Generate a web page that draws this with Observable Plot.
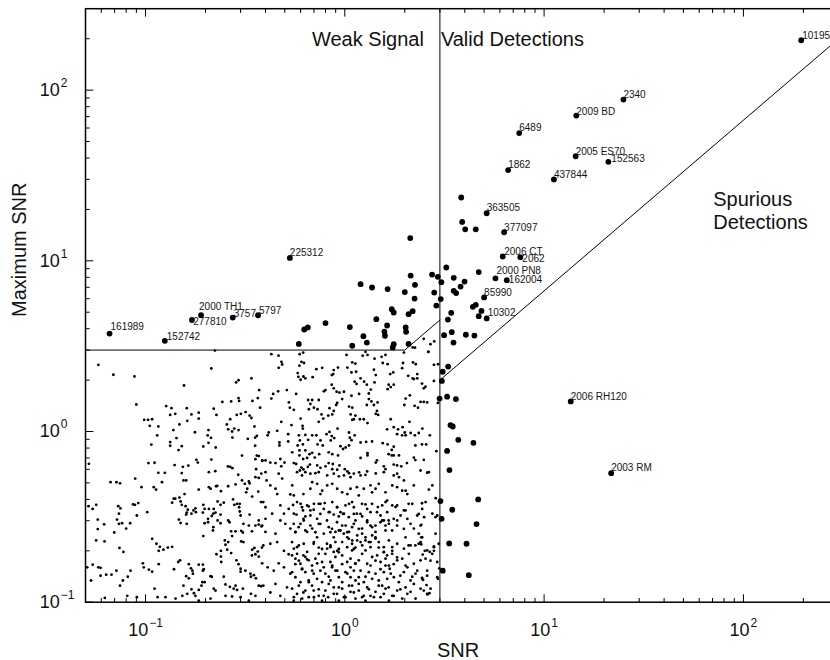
<!DOCTYPE html>
<html>
<head>
<meta charset="utf-8">
<script src="https://cdn.jsdelivr.net/npm/d3@7"></script>
<script src="https://cdn.jsdelivr.net/npm/@observablehq/plot@0.6"></script>
<style>
  html, body { margin: 0; padding: 0; background: white; overflow: hidden; }
  #wrap { width: 830px; height: 660px; overflow: hidden; }
</style>
</head>
<body>
<div id="wrap"></div>
<script>
// ---------------- DATA ----------------
// Tick values and labels
const decadeTicks = [0.1, 1, 10, 100];
const decadeExponents = ["−1", "0", "1", "2"];
const xMinorTicks = [0.06, 0.07, 0.08, 0.09, 0.2, 0.3, 0.4, 0.5, 0.6, 0.7, 0.8, 0.9,
  2, 3, 4, 5, 6, 7, 8, 9, 20, 30, 40, 50, 60, 70, 80, 90, 200];
const yMinorTicks = [0.2, 0.3, 0.4, 0.5, 0.6, 0.7, 0.8, 0.9, 2, 3, 4, 5, 6, 7, 8, 9,
  20, 30, 40, 50, 60, 70, 80, 90, 200];

// Region boundaries [SNR, Maximum SNR]
const snrThreshold = 3;
const weakBoundary = [[0.05, 3], [2, 3], [3, 4.5]];
const spuriousBoundary = [[3, 2], [300, 200]];

// Undetected objects, [SNR, Maximum SNR]
const cloudUpperLeft = [
[0.058,2.46],[0.069,2.15],[0.088,2.10],[0.156,1.86],[0.214,2.34],[0.223,2.98],[0.285,1.94],[0.293,2.0],[0.34,2.05],[0.372,1.75],
[0.090,1.44],[0.127,1.41],[0.135,1.37],[0.161,1.37],[0.133,1.25],[0.141,1.27],[0.17,1.26],[0.185,1.29],[0.185,1.19],[0.162,1.155],
[0.148,1.10],[0.138,1.02],[0.22,1.36],[0.227,1.25],[0.243,1.49],[0.269,1.50],[0.293,1.57],[0.295,1.51],[0.344,1.51],[0.366,1.57],
[0.376,1.38],[0.287,1.25],[0.301,1.27],[0.318,1.30],[0.333,1.24],[0.34,1.20],[0.266,1.18],[0.256,1.10],[0.26,1.03],[0.279,1.04],
[0.293,1.02],[0.272,1.0],[0.352,1.07],[0.0985,1.17],[0.103,1.17],[0.108,1.18],[0.105,1.08],[0.116,1.07],[0.1145,0.948],[0.107,0.839],
[0.133,0.867],[0.133,0.825],[0.143,0.915],[0.152,0.821],[0.1465,0.778],[0.177,0.99],[0.207,1.02],[0.205,0.948],[0.213,0.918],[0.207,0.859],
[0.195,0.817],[0.225,0.806],[0.273,0.922],[0.326,0.906],[0.355,0.922],[0.362,0.944],[0.355,0.825],[0.305,0.723],[0.362,0.723],[0.37,0.718],
[0.356,0.689],[0.386,0.674],[0.052,0.647],[0.1035,0.653],[0.111,0.656],[0.14,0.636],[0.154,0.621],[0.164,0.632],[0.18,0.683],[0.183,0.658],
[0.214,0.685],[0.259,0.624],[0.266,0.621],[0.273,0.61],[0.359,0.602],[0.381,0.567],[0.116,0.573],[0.125,0.573],[0.152,0.571],[0.208,0.578],
[0.224,0.586],[0.292,0.558]
];
const cloudUpperRight = [
[0.428,2.84],[0.465,2.78],[0.594,2.84],[0.618,2.90],[1.02,2.81],[1.23,2.78],[1.27,2.93],[1.30,2.81],[1.41,2.67],[1.53,2.74],
[1.60,2.81],[1.55,2.52],[1.64,2.48],[1.98,2.90],[2.25,3.1],[2.62,2.93],[2.20,2.54],[2.27,2.48],[1.96,2.52],[1.94,2.35],
[2.80,2.46],[0.481,2.56],[0.485,2.47],[0.466,2.36],[0.606,2.56],[0.624,2.52],[0.592,2.43],[0.72,2.32],[0.77,2.36],[0.924,2.37],
[1.09,2.54],[1.13,2.50],[1.03,2.37],[1.40,2.30],[1.69,2.17],[1.75,2.22],[2.08,2.12],[2.19,2.05],[2.31,2.17],[2.31,2.05],
[2.22,2.03],[2.80,1.98],[0.58,2.20],[0.585,2.09],[0.60,2.01],[0.62,2.10],[0.634,2.05],[0.69,2.08],[0.86,2.14],[0.88,2.29],
[0.875,2.17],[1.08,2.22],[1.14,2.24],[1.20,2.05],[1.25,1.96],[1.12,1.96],[1.145,1.90],[1.43,2.14],[1.41,1.94],[1.29,1.88],
[1.35,1.76],[1.32,1.67],[1.66,1.88],[1.64,1.77],[1.70,1.82],[1.76,1.88],[2.44,1.91],[2.54,1.83],[2.49,1.79],[0.86,1.88],
[0.88,1.79],[0.91,1.71],[0.94,1.69],[0.80,1.75],[0.785,1.72],[0.99,1.71],[1.08,1.62],[1.18,1.66],[0.97,1.55],[1.32,1.55],
[1.36,1.50],[1.29,1.43],[1.40,1.43],[1.46,1.48],[0.437,1.66],[0.463,1.72],[0.512,1.75],[0.428,1.56],[0.57,1.66],[0.524,1.48],
[0.53,1.38],[0.555,1.34],[0.655,1.53],[0.686,1.53],[0.74,1.53],[0.672,1.45],[0.70,1.38],[0.73,1.35],[0.66,1.35],[0.60,1.19],
[0.614,1.08],[0.616,1.04],[0.54,1.09],[0.48,1.14],[0.764,1.26],[0.78,1.19],[0.74,1.14],[0.826,1.24],[0.865,1.26],[0.88,1.32],
[0.838,1.37],[0.916,1.47],[0.905,1.43],[1.05,1.40],[1.09,1.38],[1.07,1.26],[1.13,1.24],[1.11,1.18],[1.09,1.17],[1.19,1.18],
[1.245,1.18],[1.30,1.12],[1.43,1.27],[1.47,1.25],[1.45,1.32],[1.70,1.18],[0.92,1.04],[2.02,1.56],[1.99,1.43],[2.12,1.63],
[2.24,1.415],[2.33,1.38],[2.40,1.49],[2.49,1.49],[2.59,1.48],[2.11,1.14],[1.63,1.03],[1.76,1.06],[1.85,1.03],[1.95,1.06],
[2.0,0.987],[1.83,0.965],[1.94,0.95],[2.02,0.95],[2.14,0.98],[2.245,0.95],[2.35,0.98],[2.45,1.04],[2.67,0.95],[0.41,0.95],
[0.415,0.987],[0.458,1.01],[0.52,0.965],[0.52,0.874],[0.47,0.862],[0.47,0.828],[0.588,0.95],[0.595,0.887],[0.616,0.84],[0.58,0.828],
[0.634,0.955],[0.655,0.894],[0.686,0.95],[0.72,0.95],[0.81,0.965],[0.838,0.995],[0.86,0.94],[0.885,0.915],[0.85,0.887],[0.755,0.887],
[0.775,0.828],[0.73,0.84],[1.05,0.987],[1.06,0.92],[1.08,0.89],[1.12,0.95],[0.951,0.82],[1.01,0.806],[1.05,0.828],[0.98,0.79],
[1.20,0.862],[1.28,0.87],[1.37,0.874],[1.55,0.855],[1.64,0.84],[1.76,0.815],[1.72,0.78],[1.66,0.737],[1.72,0.724],[1.76,0.724],
[2.26,0.828],[2.44,0.84],[2.56,0.84],[1.87,0.724],[0.634,0.775],[0.665,0.737],[0.647,0.70],[0.618,0.69],[0.686,0.75],[0.707,0.704],
[0.744,0.737],[0.83,0.755],[0.865,0.737],[0.925,0.724],[0.592,0.775],[0.592,0.724],[0.545,0.755],[0.498,0.658],[0.48,0.625],[0.475,0.69],
[0.449,0.653],[0.423,0.658],[0.40,0.677],[0.385,0.677],[0.555,0.653],[0.57,0.645],[0.606,0.615],[0.595,0.591],[0.62,0.60],[0.652,0.62],
[0.668,0.64],[0.727,0.633],[0.755,0.613],[0.80,0.625],[0.83,0.653],[0.87,0.645],[0.865,0.602],[0.916,0.597],[0.94,0.633],[1.20,0.70],
[1.30,0.747],[1.30,0.724],[1.45,0.677],[1.43,0.658],[1.0,0.602],[1.03,0.584],[1.05,0.57],[1.18,0.577],[1.295,0.584],[1.57,0.625],
[1.60,0.602],[1.76,0.64],[1.83,0.633],[1.92,0.625],[2.05,0.653],[2.22,0.704],[2.26,0.68],[2.49,0.683],[2.88,0.767],[2.40,0.591],
[2.59,0.574],[2.94,2.48],[2.93,1.47],[2.64,0.457],[2.75,0.483],[2.86,0.407],[2.44,0.38],[2.50,0.315],[2.85,0.315],[2.42,0.284],
[2.42,0.24],[2.42,0.218],[2.80,0.212],[2.52,0.20],[2.67,0.197],[2.80,0.20],[2.46,0.19],[2.98,0.158],[2.44,0.139],[2.47,0.135],
[2.93,0.137],[2.57,0.126],[2.60,0.111],[2.66,0.113],[2.49,3.49],[2.69,3.25],[2.81,3.37],[2.19,3.11],[2.63,2.93]
];
const cloudLowerLeft = [
[0.0668,0.505],[0.0715,0.505],[0.0745,0.497],[0.0888,0.53],[0.0955,0.472],[0.110,0.472],[0.113,0.457],[0.121,0.505],[0.155,0.517],[0.160,0.517],
[0.0518,0.365],[0.0543,0.352],[0.0566,0.372],[0.073,0.365],[0.0749,0.355],[0.0736,0.33],[0.0866,0.374],[0.0885,0.372],[0.092,0.381],[0.0905,0.322],
[0.102,0.337],[0.0576,0.305],[0.062,0.286],[0.0576,0.268],[0.072,0.305],[0.0736,0.288],[0.0763,0.29],[0.0838,0.29],[0.0697,0.256],[0.080,0.27],
[0.0566,0.23],[0.0623,0.227],[0.074,0.208],[0.0775,0.197],[0.108,0.235],[0.1135,0.22],[0.1165,0.20],[0.118,0.211],[0.123,0.203],[0.1295,0.209],
[0.136,0.211],[0.1385,0.404],[0.136,0.383],[0.141,0.404],[0.148,0.41],[0.157,0.43],[0.150,0.389],[0.152,0.372],[0.159,0.365],[0.161,0.335],
[0.160,0.326],[0.163,0.348],[0.170,0.33],[0.174,0.345],[0.178,0.355],[0.179,0.337],[0.185,0.457],[0.208,0.472],[0.212,0.462],[0.226,0.478],
[0.229,0.48],[0.239,0.447],[0.260,0.478],[0.283,0.49],[0.305,0.517],[0.315,0.494],[0.330,0.51],[0.333,0.497],[0.356,0.54],[0.370,0.535],
[0.320,0.44],[0.324,0.462],[0.343,0.416],[0.368,0.445],[0.275,0.40],[0.279,0.372],[0.288,0.377],[0.297,0.377],[0.295,0.36],[0.297,0.34],
[0.380,0.386],[0.400,0.36],[0.230,0.389],[0.238,0.372],[0.247,0.383],[0.195,0.372],[0.198,0.352],[0.194,0.335],[0.208,0.352],[0.220,0.352],
[0.219,0.33],[0.2245,0.335],[0.238,0.326],[0.147,0.305],[0.150,0.291],[0.161,0.288],[0.206,0.308],[0.215,0.32],[0.230,0.301],[0.238,0.29],
[0.219,0.275],[0.206,0.294],[0.198,0.29],[0.260,0.301],[0.264,0.294],[0.300,0.322],[0.333,0.326],[0.370,0.301],[0.370,0.285],[0.382,0.278],
[0.400,0.308],[0.310,0.288],[0.330,0.281],[0.356,0.281],[0.269,0.26],[0.272,0.244],[0.283,0.26],[0.302,0.262],[0.308,0.256],[0.342,0.26],
[0.195,0.244],[0.218,0.263],[0.250,0.23],[0.252,0.217],[0.260,0.225],[0.302,0.227],[0.310,0.225],[0.343,0.203],[0.352,0.208],[0.356,0.191],
[0.366,0.198],[0.370,0.185],[0.342,0.188],[0.384,0.209],[0.239,0.20],[0.239,0.185],[0.240,0.172],[0.269,0.194],[0.257,0.203],[0.286,0.176],
[0.293,0.167],[0.300,0.157],[0.227,0.191],[0.146,0.172],[0.149,0.176],[0.139,0.156],[0.165,0.167],[0.169,0.158],[0.172,0.153],[0.173,0.147],
[0.160,0.142],[0.165,0.138],[0.185,0.166],[0.194,0.166],[0.196,0.156],[0.194,0.153],[0.212,0.142],[0.215,0.141],[0.193,0.131],[0.198,0.131],
[0.191,0.125],[0.185,0.118],[0.155,0.125],[0.170,0.119],[0.175,0.113],[0.162,0.112],[0.220,0.12],[0.2245,0.117],[0.247,0.141],[0.252,0.127],
[0.265,0.123],[0.277,0.12],[0.283,0.125],[0.300,0.151],[0.317,0.153],[0.336,0.147],[0.338,0.141],[0.350,0.144],[0.358,0.138],[0.370,0.125],
[0.380,0.124],[0.288,0.118],[0.308,0.12],[0.338,0.112],[0.356,0.109],[0.051,0.16],[0.0543,0.166],[0.058,0.16],[0.0595,0.159],[0.0533,0.134],
[0.0595,0.143],[0.0635,0.145],[0.0675,0.145],[0.0715,0.153],[0.0745,0.125],[0.077,0.134],[0.0815,0.141],[0.0841,0.153],[0.097,0.169],[0.098,0.16],
[0.104,0.155],[0.108,0.151],[0.1165,0.167],[0.111,0.12],[0.115,0.107],[0.126,0.107],[0.0905,0.107],[0.081,0.109],[0.0625,0.106],[0.153,0.109],
[0.178,0.109],[0.252,0.109],[0.272,0.108],[0.300,0.107],[0.330,0.102],[0.185,0.102],[0.212,0.105],[0.1415,0.105]
];
const cloudLowerRight = [
[0.40,0.578],[0.466,0.566],[0.485,0.53],[0.576,0.578],[0.610,0.553],[0.634,0.578],[0.672,0.566],[0.712,0.57],[0.740,0.578],[0.816,0.553],
[0.880,0.566],[0.934,0.546],[0.990,0.553],[1.068,0.54],[1.11,0.567],[1.20,0.553],[1.27,0.557],[1.43,0.568],[1.57,0.578],[1.76,0.553],
[1.87,0.54],[1.83,0.566],[1.98,0.517],[2.64,0.578],[0.405,0.517],[0.423,0.483],[0.449,0.462],[0.458,0.43],[0.545,0.483],[0.555,0.422],
[0.533,0.428],[0.620,0.43],[0.672,0.462],[0.686,0.505],[0.727,0.494],[0.770,0.45],[0.755,0.43],[0.816,0.483],[0.865,0.494],[0.916,0.462],
[0.970,0.44],[1.03,0.43],[1.068,0.462],[1.15,0.472],[1.175,0.422],[1.245,0.462],[1.346,0.483],[1.37,0.44],[1.426,0.462],[1.48,0.494],
[1.60,0.44],[1.73,0.483],[1.83,0.472],[1.94,0.45],[2.06,0.43],[2.02,0.45],[2.22,0.483],[0.390,0.386],[0.432,0.33],[0.475,0.369],
[0.495,0.33],[0.523,0.352],[0.555,0.33],[0.576,0.386],[0.610,0.36],[0.647,0.369],[0.672,0.345],[0.700,0.377],[0.755,0.377],[0.784,0.352],
[0.831,0.337],[0.865,0.386],[0.916,0.36],[0.951,0.337],[0.990,0.33],[1.05,0.377],[1.11,0.36],[1.15,0.33],[1.22,0.377],[1.295,0.352],
[1.37,0.377],[1.45,0.337],[1.54,0.369],[1.63,0.394],[1.73,0.369],[1.83,0.369],[1.98,0.345],[2.09,0.377],[2.31,0.322],[2.75,0.33],
[0.385,0.281],[0.400,0.258],[0.449,0.252],[0.475,0.301],[0.503,0.288],[0.533,0.27],[0.565,0.258],[0.599,0.288],[0.620,0.308],[0.647,0.258],
[0.686,0.27],[0.740,0.288],[0.784,0.252],[0.831,0.275],[0.897,0.258],[0.951,0.263],[1.01,0.281],[1.05,0.258],[1.11,0.288],[1.155,0.246],
[1.22,0.27],[1.295,0.301],[1.346,0.281],[1.426,0.258],[1.51,0.294],[1.60,0.281],[1.66,0.301],[1.76,0.308],[1.83,0.281],[2.06,0.308],
[2.22,0.27],[2.35,0.252],[0.390,0.215],[0.423,0.22],[0.458,0.225],[0.495,0.20],[0.523,0.191],[0.555,0.206],[0.588,0.215],[0.620,0.188],
[0.647,0.197],[0.700,0.225],[0.740,0.209],[0.816,0.206],[0.847,0.215],[0.880,0.197],[0.916,0.20],[0.970,0.225],[1.03,0.24],[1.09,0.23],
[1.13,0.209],[1.20,0.225],[1.27,0.23],[1.346,0.225],[1.426,0.236],[1.48,0.209],[1.57,0.197],[1.63,0.188],[1.73,0.20],[1.83,0.183],
[1.98,0.206],[2.09,0.215],[2.26,0.215],[2.40,0.225],[0.385,0.169],[0.410,0.16],[0.440,0.153],[0.466,0.169],[0.495,0.16],[0.533,0.147],
[0.565,0.167],[0.588,0.175],[0.610,0.156],[0.647,0.178],[0.686,0.153],[0.727,0.169],[0.784,0.16],[0.831,0.141],[0.865,0.164],[0.916,0.153],
[0.970,0.167],[1.03,0.147],[1.068,0.16],[1.13,0.169],[1.20,0.153],[1.27,0.141],[1.346,0.164],[1.426,0.175],[1.51,0.156],[1.60,0.164],
[1.70,0.147],[1.76,0.167],[1.90,0.143],[2.06,0.16],[2.18,0.141],[2.31,0.153],[2.59,0.153],[2.69,0.175],[0.390,0.125],[0.423,0.114],
[0.449,0.128],[0.475,0.109],[0.513,0.122],[0.555,0.107],[0.588,0.125],[0.620,0.114],[0.660,0.131],[0.700,0.107],[0.740,0.119],[0.784,0.109],
[0.831,0.128],[0.880,0.112],[0.934,0.122],[0.990,0.107],[1.05,0.125],[1.11,0.114],[1.175,0.128],[1.245,0.109],[1.32,0.119],[1.40,0.107],
[1.48,0.125],[1.57,0.112],[1.66,0.122],[1.76,0.109],[1.90,0.119],[2.06,0.112],[2.22,0.128],[2.49,0.117]
];
const cloudDenseCore = [
[0.55,0.371],[0.60,0.377],[0.617,0.345],[0.572,0.326],[0.634,0.318],[0.659,0.364],[0.698,0.348],[0.672,0.322],[0.74,0.377],[0.754,0.329],
[0.793,0.381],[0.84,0.337],[0.88,0.326],[0.914,0.361],[0.933,0.318],[0.98,0.329],[1.008,0.369],[1.088,0.386],[1.11,0.329],[1.047,0.315],
[1.199,0.329],[1.27,0.374],[1.346,0.337],[1.222,0.318],[1.465,0.361],[1.511,0.322],[1.601,0.386],[1.632,0.337],[1.57,0.301],[1.797,0.361],
[1.904,0.322],[2.017,0.345],[2.18,0.377],[2.35,0.329],[2.445,0.352],[2.542,0.386],[2.91,0.322],
[0.554,0.288],[0.587,0.275],[0.622,0.301],[0.634,0.263],[0.565,0.257],[0.672,0.281],[0.712,0.257],[0.754,0.288],[0.726,0.308],[0.814,0.301],
[0.863,0.269],[0.914,0.294],[0.847,0.257],[0.933,0.263],[0.97,0.281],[1.028,0.257],[1.088,0.275],[1.131,0.301],[1.175,0.269],[1.222,0.252],
[1.295,0.294],[1.372,0.275],[1.426,0.281],[1.54,0.301],[1.601,0.263],[1.664,0.288],[1.729,0.263],[1.832,0.301],[1.978,0.269],[2.137,0.288],
[2.399,0.281],[2.853,0.252],
[0.544,0.225],[0.576,0.21],[0.622,0.22],[0.698,0.22],[0.726,0.24],[0.769,0.205],[0.814,0.22],[0.847,0.21],[0.897,0.225],[0.933,0.205],
[0.88,0.24],[0.988,0.252],[1.047,0.235],[1.088,0.22],[1.11,0.205],[1.028,0.21],[1.153,0.23],[1.222,0.215],[1.27,0.24],[1.32,0.225],
[1.372,0.246],[1.346,0.21],[1.426,0.24],[1.48,0.225],[1.57,0.21],[1.664,0.23],[1.729,0.21],[1.832,0.22],[2.017,0.24],[2.137,0.215],
[2.35,0.22],[2.445,0.24],[2.59,0.201],[2.80,0.21],[2.96,0.22],
[0.544,0.188],[0.565,0.18],[0.599,0.168],[0.634,0.184],[0.576,0.192],[0.659,0.176],[0.685,0.164],[0.712,0.18],[0.769,0.172],[0.74,0.192],
[0.799,0.192],[0.847,0.172],[0.897,0.184],[0.933,0.196],[0.863,0.16],[0.97,0.188],[1.028,0.172],[1.068,0.18],[1.131,0.168],[1.088,0.201],
[1.175,0.176],[1.222,0.192],[1.295,0.168],[1.372,0.184],[1.27,0.201],[1.454,0.188],[1.511,0.172],[1.601,0.18],[1.664,0.164],[1.57,0.196],
[1.729,0.192],[1.832,0.176],[1.941,0.18],[2.017,0.164],[2.096,0.192],[2.22,0.168],[2.399,0.176],[2.542,0.18],[2.745,0.192],[2.91,0.172],
[0.544,0.150],[0.565,0.140],[0.599,0.131],[0.634,0.150],[0.611,0.157],[0.659,0.134],[0.698,0.147],[0.726,0.137],[0.769,0.131],[0.754,0.153],
[0.799,0.147],[0.847,0.134],[0.897,0.153],[0.933,0.14],[0.97,0.131],[1.008,0.15],[1.068,0.14],[1.131,0.134],[1.11,0.153],[1.175,0.14],
[1.246,0.131],[1.32,0.15],[1.372,0.137],[1.426,0.147],[1.48,0.134],[1.57,0.15],[1.632,0.137],[1.68,0.157],[1.762,0.14],[1.867,0.131],
[1.978,0.15],[2.137,0.134],[2.264,0.147],[2.445,0.137],[2.59,0.143],[2.91,0.14],
[0.544,0.12],[0.576,0.112],[0.611,0.105],[0.634,0.117],[0.554,0.102],[0.659,0.107],[0.698,0.117],[0.74,0.109],[0.769,0.102],[0.685,0.125],
[0.799,0.117],[0.825,0.107],[0.88,0.122],[0.914,0.112],[0.933,0.102],[0.97,0.12],[1.008,0.107],[1.068,0.115],[1.131,0.105],[1.088,0.125],
[1.175,0.117],[1.222,0.107],[1.295,0.122],[1.346,0.109],[1.27,0.102],[1.426,0.115],[1.511,0.107],[1.601,0.12],[1.664,0.102],[1.54,0.125],
[1.729,0.109],[1.832,0.117],[1.941,0.105],[2.017,0.122],[2.137,0.115],[2.264,0.105],[2.399,0.12],[2.59,0.112],[2.693,0.12]
];

// Detected objects (large dots), [SNR, Maximum SNR]
const weakSignalHits = [
[1.20,7.30],[1.37,6.98],[1.64,6.83],[2.0,6.56],[2.25,7.23],[2.24,6.01],[2.13,13.6],[2.14,8.20],[1.72,5.21],[1.76,4.98],
[2.09,4.87],[2.19,5.07],[1.44,4.55],[0.80,4.32],[0.626,3.96],[0.652,4.07],[1.06,4.09],[1.63,4.18],[1.58,3.85],[1.59,3.64],
[2.02,4.07],[2.03,3.84],[1.24,3.62],[1.29,3.32],[0.588,3.26],[1.09,3.18],[1.76,3.25],[1.74,3.11],[2.09,3.26],[2.81,6.52],
[2.88,5.47],[2.74,8.31],[2.93,8.06]
];
const validHits = [
[3.84,23.5],[3.88,16.9],[4.02,15.3],[4.54,15.3],[3.23,9.14],[4.70,8.59],[3.05,7.50],[3.52,7.95],[3.99,7.56],[3.81,7.07],
[3.52,6.67],[3.62,6.47],[3.03,5.97],[4.39,5.38],[4.54,5.52],[4.85,5.09],[4.70,4.74],[3.42,4.96],[3.29,4.53],[3.15,3.67],
[3.44,3.82],[3.51,3.32],[4.05,3.69],[4.47,3.65],[3.30,2.40],[3.10,2.24]
];
const spuriousHits = [
[3.07,1.98],[2.99,1.56],[3.26,1.60],[3.61,1.55],[3.39,1.09],[3.48,1.07],[3.71,0.894],[4.42,0.859],[3.26,0.77],[3.35,0.594],
[3.02,0.391],[4.67,0.40],[3.46,0.348],[3.06,0.308],[4.58,0.287],[3.34,0.221],[4.08,0.22],[3.10,0.153],[4.19,0.144]
];

// Named objects
const namedObjects = ["101955","2340","2009 BD","6489","2005 ES70","152563","1862","437844","363505","377097",
  "2006 CT","2062","2000 PN8","162004","85990","10302","2006 RH120","2003 RM","225312","2000 TH1",
  "277810","3757","5797","161989","152742"];
const namedSNR = [195, 25, 14.5, 7.5, 14.4, 21, 6.6, 11.2, 5.15, 6.3,
  6.2, 7.6, 5.7, 6.5, 5.0, 5.15, 13.6, 21.7, 0.53, 0.19,
  0.171, 0.274, 0.367, 0.066, 0.125];
const namedMaxSNR = [196, 88, 71, 56, 41, 38, 34, 30, 19, 14.7,
  10.6, 10.5, 7.9, 7.7, 6.1, 4.6, 1.5, 0.57, 10.4, 4.8,
  4.5, 4.65, 4.8, 3.75, 3.4];

// ---------------- RENDER ----------------
const FONT = "'Liberation Sans', Arial, Helvetica, sans-serif";
// label nudges (pixels) relative to each dot
const labelNudge = {
  "101955": [1, -1.6], "2340": [0, -2], "2009 BD": [0, -1], "6489": [0, -2], "2005 ES70": [0, -1.5],
  "152563": [3, 0.5], "1862": [0, -1.7], "437844": [0, -1.3], "363505": [0, -2], "377097": [0, -1.3],
  "2006 CT": [1.5, -2], "2062": [2, 5], "2000 PN8": [1, -4], "162004": [2, 3], "85990": [0, -1.7],
  "10302": [1, -2.3], "2006 RH120": [0, -1.4], "2003 RM": [0, -2], "225312": [0, -2], "2000 TH1": [-2, -5.7],
  "277810": [1.3, 5.3], "3757": [1, -1], "5797": [1, -1.4], "161989": [1, -3.4], "152742": [2, -1]
};

const smallDots = [...cloudUpperLeft, ...cloudUpperRight, ...cloudLowerLeft, ...cloudLowerRight, ...cloudDenseCore];
const bigDots = [...weakSignalHits, ...validHits, ...spuriousHits];
const named = namedObjects.map((name, i) => ({name, snr: namedSNR[i], max: namedMaxSNR[i]}));

const tickShape = { draw(context, l) { context.moveTo(0, 0); context.lineTo(0, -l); } };
const tickOpts = {shape: tickShape, anchor: "start", stroke: "black", strokeWidth: 1};

const marks = [
  Plot.ruleX([snrThreshold], {stroke: "black", strokeWidth: 1}),
  Plot.line(weakBoundary, {x: d => d[0], y: d => d[1], stroke: "black", strokeWidth: 1}),
  Plot.line(spuriousBoundary, {x: d => d[0], y: d => d[1], stroke: "black", strokeWidth: 1}),
  Plot.dot(smallDots, {x: d => d[0], y: d => d[1], r: 1.4, fill: "black", stroke: "none"}),
  Plot.dot(bigDots, {x: d => d[0], y: d => d[1], r: 2.9, fill: "black", stroke: "none"}),
  Plot.dot(named, {x: "snr", y: "max", r: 2.9, fill: "black", stroke: "none"}),
  ...named.map(d => Plot.text([d], {
    x: "snr", y: "max", text: "name", textAnchor: "start", lineAnchor: "bottom",
    dx: labelNudge[d.name][0], dy: labelNudge[d.name][1], fontSize: 10, fill: "#151515"
  })),
  // ticks (inward)
  Plot.vector(decadeTicks, {x: d => d, frameAnchor: "bottom", length: 7.5, rotate: 0, ...tickOpts}),
  Plot.vector(xMinorTicks, {x: d => d, frameAnchor: "bottom", length: 3.8, rotate: 0, ...tickOpts}),
  Plot.vector(decadeTicks, {x: d => d, frameAnchor: "top", length: 7.5, rotate: 180, ...tickOpts}),
  Plot.vector(xMinorTicks, {x: d => d, frameAnchor: "top", length: 3.8, rotate: 180, ...tickOpts}),
  Plot.vector(decadeTicks, {y: d => d, frameAnchor: "left", length: 7.5, rotate: 90, ...tickOpts}),
  Plot.vector(yMinorTicks, {y: d => d, frameAnchor: "left", length: 3.8, rotate: 90, ...tickOpts}),
  Plot.frame({stroke: "black", strokeWidth: 1.5}),
  // tick labels
  Plot.text(decadeTicks, {x: d => d, text: (d, i) => "10^" + decadeExponents[i], frameAnchor: "bottom",
    lineAnchor: "bottom", dy: 33.3, textAnchor: "middle", fontSize: 18, fill: "#111"}),
  Plot.text(decadeTicks, {y: d => d, text: (d, i) => "10^" + decadeExponents[i], frameAnchor: "left",
    lineAnchor: "middle", dx: -45.7, textAnchor: "start", fontSize: 18, fill: "#111"}),
  // axis titles
  Plot.text(["SNR"], {frameAnchor: "bottom", lineAnchor: "bottom", dy: 55, dx: -4, fontSize: 20, fill: "#111"}),
  Plot.text(["Maximum SNR"], {frameAnchor: "left", lineAnchor: "bottom", rotate: -90, dx: -60, dy: 11.5, fontSize: 20, fill: "#111"}),
  // region annotations
  Plot.text(["Weak Signal"], {x: snrThreshold, frameAnchor: "top", textAnchor: "end", lineAnchor: "bottom", dx: -16, dy: 37.5, fontSize: 20, fill: "#111"}),
  Plot.text(["Valid Detections"], {x: snrThreshold, frameAnchor: "top", textAnchor: "start", lineAnchor: "bottom", dx: 1, dy: 37.5, fontSize: 20, fill: "#111"}),
  Plot.text(["Spurious\nDetections"], {x: 70.6, y: 15.4, textAnchor: "start", lineAnchor: "bottom", lineHeight: 1.13, fontSize: 20, fill: "#111"})
];

const svg = Plot.plot({
  width: 838, height: 660,
  marginLeft: 85, marginRight: 0, marginTop: 8.2, marginBottom: 58.3,
  x: {type: "log", domain: [0.05, 300], axis: null},
  y: {type: "log", domain: [0.1, 300], axis: null},
  style: {fontFamily: FONT, background: "white", overflow: "visible"},
  marks
});
svg.style.maxWidth = "none";

// superscript exponents in tick labels
const NS = "http://www.w3.org/2000/svg";
svg.querySelectorAll("text").forEach(t => {
  const s = t.textContent;
  if (s.startsWith("10^")) {
    const exp = s.slice(3);
    t.textContent = "";
    const base = document.createElementNS(NS, "tspan");
    base.textContent = "10";
    const sup = document.createElementNS(NS, "tspan");
    sup.setAttribute("font-size", "12");
    sup.setAttribute("dy", "-9");
    sup.setAttribute("dx", "1");
    sup.textContent = exp;
    t.appendChild(base);
    t.appendChild(sup);
  }
});

document.getElementById("wrap").appendChild(svg);
</script>
</body>
</html>
